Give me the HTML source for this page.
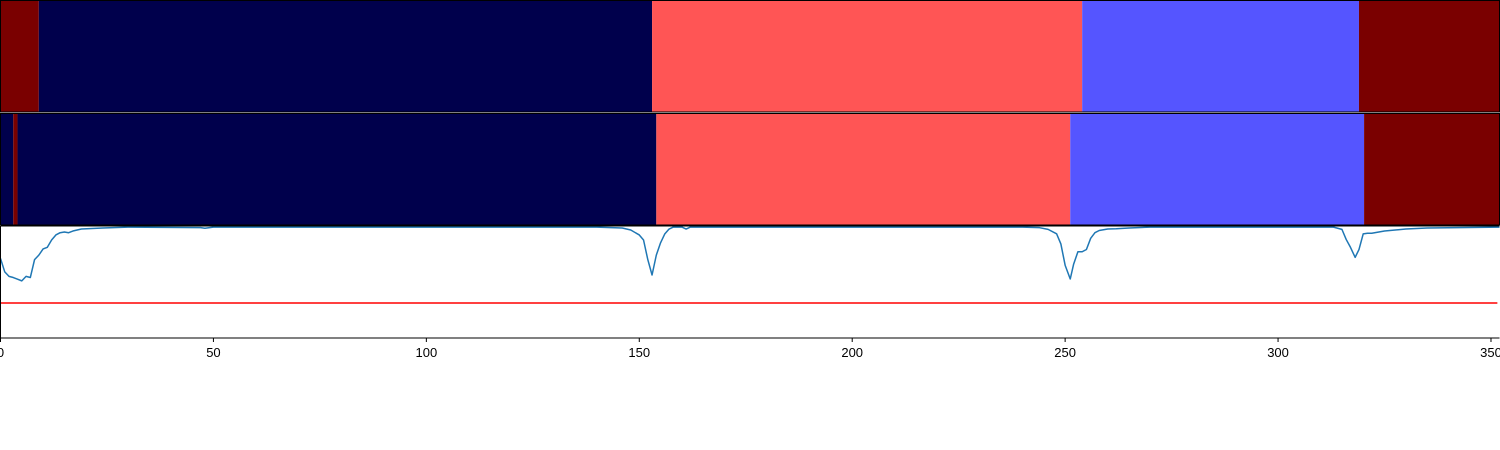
<!DOCTYPE html>
<html><head><meta charset="utf-8"><style>
html,body{margin:0;padding:0;background:#fff;}
svg{display:block;font-family:"Liberation Sans","DejaVu Sans",sans-serif;}
</style></head><body>
<svg id="chart" width="1500" height="450"></svg>
<script>
const xMax = 352;
const topSegStarts = [0, 9, 153, 254, 319];
const topSegEnds = [9, 153, 254, 319, 352];
const topSegClass = [4, 0, 3, 2, 4];
const midSegStarts = [0, 3, 4, 154, 251.2, 320.2];
const midSegEnds = [3, 4, 154, 251.2, 320.2, 352];
const midSegClass = [0, 4, 0, 3, 2, 4];
const classColors = ['#00004c', '#000080', '#5555ff', '#ff5555', '#7a0000'];
const lineX = [0,1,2,3,4,5,6,7,8,9,10,11,12,13,14,15,16,17,19,24,30,47,48,50,140,146,148,150,151,152,153,154,155,156,157,158,160,161,162,164,240,244,246,248,249,250,251.2,252,253,254,255,256,257,258,260,262,265,270,313,315,316,317,318.1,319,320,321,322,325,330,335,352];
const lineV = [0.71,0.59,0.55,0.54,0.525,0.51,0.55,0.54,0.70,0.74,0.795,0.81,0.875,0.92,0.94,0.946,0.94,0.955,0.973,0.982,0.99,0.985,0.98,0.99,0.99,0.982,0.964,0.92,0.875,0.70,0.5625,0.74,0.85,0.93,0.973,0.99,0.99,0.973,0.99,0.99,0.99,0.985,0.97,0.93,0.84,0.65,0.527,0.66,0.77,0.77,0.79,0.89,0.94,0.96,0.973,0.975,0.982,0.99,0.99,0.97,0.88,0.81,0.72,0.79,0.93,0.935,0.935,0.955,0.973,0.982,0.99];
const threshold = [0.3125];
const xTicks = [0,50,100,150,200,250,300,350];

const svg = document.getElementById('chart');
const NS = 'http://www.w3.org/2000/svg';
const L = 0.5, R = 1499.5;
function sx(v){ return L + v/xMax*(R-L); }
function mk(tag, attrs){ const e=document.createElementNS(NS,tag); for(const k in attrs) e.setAttribute(k,attrs[k]); svg.appendChild(e); return e; }

function drawSegs(starts, ends, cls, y0, y1, nm){
  for(let i=0;i<starts.length;i++){
    const r = mk('rect',{x:sx(starts[i]),y:y0,width:sx(ends[i])-sx(starts[i]),height:y1-y0,fill:classColors[cls[i]]});
    
    
  }
  const f = mk('rect',{x:L,y:y0,width:R-L,height:y1-y0,fill:'none',stroke:'#000','stroke-width':1});
  
  
}
drawSegs(topSegStarts, topSegEnds, topSegClass, 0.5, 112, 'predicted-strip');
drawSegs(midSegStarts, midSegEnds, midSegClass, 113.5, 225, 'ground-truth-strip');

// third axes
const Y0 = 226, Y1 = 338;
function sy(v){ return Y1 - v*(Y1-Y0); }
const clip = mk('clipPath',{id:'c3'});
const cr = document.createElementNS(NS,'rect');
cr.setAttribute('x',0);cr.setAttribute('y',Y0-2);cr.setAttribute('width',1500);cr.setAttribute('height',Y1-Y0+2);
clip.appendChild(cr);
const th = mk('line',{x1:sx(0),x2:sx(351.5),y1:sy(threshold[0]),y2:sy(threshold[0]),stroke:'#ff0000','stroke-width':1.5});


let d='';
for(let i=0;i<lineX.length;i++) d += (i?'L':'M') + sx(lineX[i]).toFixed(2) + ',' + sy(lineV[i]).toFixed(2);
const p = mk('path',{d:d,fill:'none',stroke:'#1f77b4','stroke-width':1.5,'clip-path':'url(#c3)','stroke-linejoin':'round'});


const ax = mk('path',{d:`M${L},${Y0}L${L},${Y1}L${R},${Y1}`,fill:'none',stroke:'#000','stroke-width':1});


const tl = mk('line',{x1:L,x2:R,y1:Y0,y2:Y0,stroke:'#000','stroke-width':1});


xTicks.forEach(t=>{
  const x = sx(t);
  const tk = mk('line',{x1:x,x2:x,y1:Y1,y2:Y1+4,stroke:'#000','stroke-width':1});
  
  
  const tx = mk('text',{x:x,y:Y1+19,'font-size':13,'text-anchor':'middle',fill:'#000'});
  tx.textContent = t;
  
  
});
</script>
</body></html>
